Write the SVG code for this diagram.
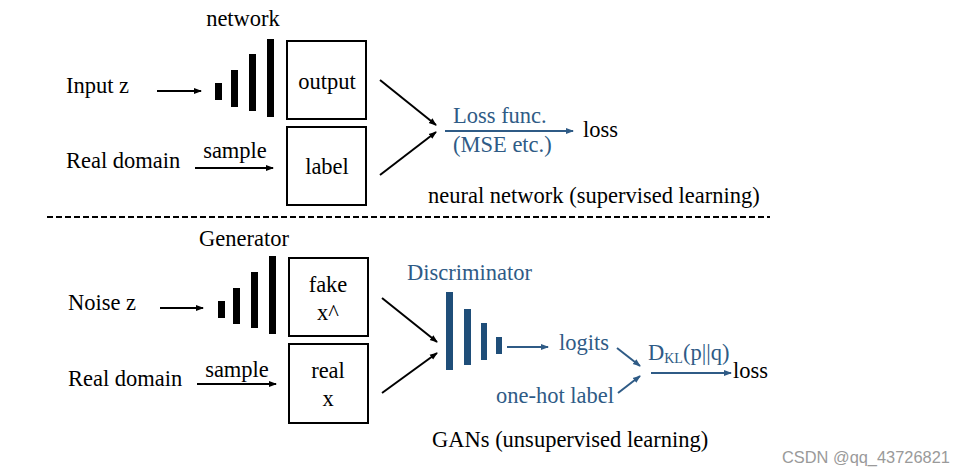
<svg xmlns="http://www.w3.org/2000/svg" width="967" height="475" viewBox="0 0 967 475">
<defs>
<marker id="ab" markerWidth="8" markerHeight="8" refX="7" refY="4" orient="auto" markerUnits="userSpaceOnUse"><path d="M0,1 L8,4 L0,7 Z" fill="#000"/></marker>
<marker id="au" markerWidth="8" markerHeight="8" refX="7" refY="4" orient="auto" markerUnits="userSpaceOnUse"><path d="M0,1 L8,4 L0,7 Z" fill="#2f5b86"/></marker>
</defs>
<style>
text{font-family:'Liberation Serif','Times New Roman',serif;font-size:22.5px;fill:#000}
.b{fill:#2f5b86}
.box{fill:#fff;stroke:#000;stroke-width:2}
.bar{fill:#000}
.dbar{fill:#1f4e79}
.k{stroke:#000;stroke-width:2;fill:none;marker-end:url(#ab)}
.u{stroke:#2f5b86;stroke-width:2;fill:none;marker-end:url(#au)}
.wm{font-family:'Liberation Sans',Arial,sans-serif;font-size:16.4px;fill:#9a9a9a}
</style>
<rect width="967" height="475" fill="#fff"/>

<g id="top-network">
<text x="243" y="26" text-anchor="middle">network</text>
<rect class="bar" x="215" y="83" width="7" height="17"/>
<rect class="bar" x="231" y="70" width="7" height="37"/>
<rect class="bar" x="249" y="54" width="7" height="57"/>
<rect class="bar" x="267" y="39" width="7" height="78"/>
</g>
<g id="top-input"><text x="66" y="93">Input z</text></g>
<g id="top-real"><text x="66" y="168">Real domain</text></g>
<g id="top-output"><rect class="box" x="287" y="41" width="79" height="78"/><text x="327" y="89" text-anchor="middle">output</text></g>
<g id="top-label"><rect class="box" x="287" y="127" width="79" height="78"/><text x="327" y="174" text-anchor="middle">label</text></g>
<g id="top-lossfunc"><text class="b" x="453" y="123">Loss func.</text><text class="b" x="453" y="152">(MSE etc.)</text></g>
<g id="top-loss"><text x="583" y="137">loss</text></g>
<g id="top-caption"><text x="428" y="203">neural network (supervised learning)</text></g>

<line x1="47" y1="217" x2="770" y2="217" stroke="#000" stroke-width="2" stroke-dasharray="6,3"/>

<g id="bot-generator">
<text x="244" y="246" text-anchor="middle">Generator</text>
<rect class="bar" x="218" y="301" width="7" height="17"/>
<rect class="bar" x="233" y="288" width="7" height="36"/>
<rect class="bar" x="251" y="272" width="7" height="56"/>
<rect class="bar" x="269" y="256" width="7" height="78"/>
</g>
<g id="bot-noise"><text x="68" y="310">Noise z</text></g>
<g id="bot-real"><text x="68" y="386">Real domain</text></g>
<g id="bot-fake"><rect class="box" x="289" y="258" width="79" height="78"/><text x="328" y="292" text-anchor="middle">fake</text><text x="328" y="320" text-anchor="middle">x^</text></g>
<g id="bot-realx"><rect class="box" x="289" y="344" width="79" height="79"/><text x="328" y="378" text-anchor="middle">real</text><text x="328" y="406" text-anchor="middle">x</text></g>
<g id="bot-discriminator">
<text class="b" x="407" y="280">Discriminator</text>
<rect class="dbar" x="446" y="292" width="7" height="78"/>
<rect class="dbar" x="464" y="309" width="7" height="56"/>
<rect class="dbar" x="481" y="323" width="6" height="37"/>
<rect class="dbar" x="496" y="337" width="6" height="17"/>
</g>
<g id="bot-logits"><text class="b" x="559" y="350">logits</text></g>
<g id="bot-onehot"><text class="b" x="496" y="403">one-hot label</text></g>
<g id="bot-dkl"><text class="b" x="648" y="360">D<tspan font-size="14" dy="3">KL</tspan><tspan dy="-3">(p||q)</tspan></text></g>
<g id="bot-loss"><text x="733" y="378">loss</text></g>
<g id="bot-caption"><text x="432" y="447">GANs (unsupervised learning)</text></g>

<g id="connectors">
<line class="k" x1="157" y1="91" x2="201" y2="91"/>
<line class="k" x1="195" y1="168" x2="273" y2="168"/>
<text x="235" y="158" text-anchor="middle">sample</text>
<line class="k" x1="380" y1="80" x2="436" y2="125"/>
<line class="k" x1="380" y1="175" x2="436" y2="132"/>
<line class="u" x1="445" y1="131" x2="573" y2="131"/>
<line class="k" x1="160" y1="308" x2="203" y2="308"/>
<line class="k" x1="197" y1="384" x2="276" y2="384"/>
<text x="237" y="377" text-anchor="middle">sample</text>
<line class="k" x1="382" y1="298" x2="437" y2="342"/>
<line class="k" x1="382" y1="393" x2="437" y2="353"/>
<line class="u" x1="507" y1="347" x2="548" y2="347"/>
<line class="u" x1="617" y1="348" x2="640" y2="366"/>
<line class="u" x1="618" y1="393" x2="640" y2="376"/>
<line class="u" x1="651" y1="373" x2="731" y2="373"/>
</g>
<text class="wm" x="782" y="463">CSDN @qq_43726821</text>
</svg>
